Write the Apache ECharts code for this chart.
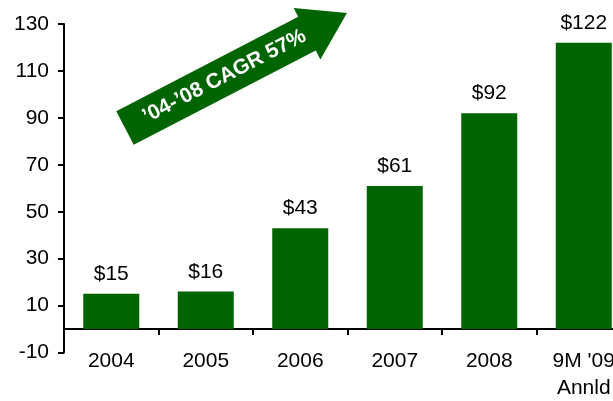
<!DOCTYPE html>
<html>
<head>
<meta charset="utf-8">
<script src="https://cdn.jsdelivr.net/npm/echarts@6/dist/echarts.min.js"></script>
<style>
html, body { margin: 0; padding: 0; background: #fff; }
#chart { width: 613px; height: 401px; }
</style>
</head>
<body>
<div id="chart"></div>
<script>
// categories and values
var years = ['2004', '2005', '2006', '2007', '2008', "9M '09\nAnnld"];
var revenue = [15, 16, 43, 61, 92, 122];
var yTicks = { min: -10, max: 130, interval: 20 };
var cagrText = '\u201904-\u201908 CAGR 57%';

var green = '#006400';
var gridH = 328.5;
var myChart = echarts.init(document.getElementById('chart'));

// arrow, drawn in its own frame then turned
var shaftLen = 205, shaftHalf = 19, headHalf = 29, headLen = 45;
var arrowPts = [
	[0, -shaftHalf], [shaftLen, -shaftHalf], [shaftLen, -headHalf],
	[shaftLen + headLen, 0],
	[shaftLen, headHalf], [shaftLen, shaftHalf], [0, shaftHalf]
];

myChart.setOption({
	backgroundColor: '#fff',
	animation: false,
	grid: { left: 64, top: 24, width: 567, height: gridH, containLabel: false, outerBoundsMode: 'none' },
	xAxis: {
		type: 'category',
		data: years,
		// lift the whole axis (line, ticks, labels) up to the zero line
		offset: -gridH * (0 - yTicks.min) / (yTicks.max - yTicks.min),
		axisLine: { onZero: false, lineStyle: { color: '#000', width: 2 } },
		axisTick: { show: true, length: 6, alignWithLabel: false, lineStyle: { color: '#000', width: 2 } },
		axisLabel: { color: '#000', fontSize: 21, fontFamily: 'Liberation Sans, Arial', margin: 19, lineHeight: 27, hideOverlap: false }
	},
	yAxis: {
		type: 'value',
		min: yTicks.min,
		max: yTicks.max,
		interval: yTicks.interval,
		axisLine: { show: true, lineStyle: { color: '#000', width: 2 } },
		axisTick: { show: true, length: 6, lineStyle: { color: '#000', width: 2 } },
		splitLine: { show: false },
		axisLabel: { color: '#000', fontSize: 21, fontFamily: 'Liberation Sans, Arial', margin: 15 }
	},
	series: [{
		type: 'bar',
		data: revenue,
		barWidth: 56,
		itemStyle: { color: green },
		label: {
			show: true,
			position: 'top',
			distance: 9,
			color: '#000',
			fontSize: 21,
			fontFamily: 'Liberation Sans, Arial',
			formatter: function (p) { return '$' + p.value; }
		}
	}],
	graphic: [{
		type: 'group',
		x: 125,
		y: 128,
		rotation: 27.4 * Math.PI / 180,
		children: [{
			type: 'polygon',
			shape: { points: arrowPts },
			style: { fill: green }
		}, {
			type: 'text',
			x: 112,
			y: 0,
			style: {
				text: cagrText,
				fill: '#fff',
				font: 'bold 21px "Liberation Sans", Arial',
				align: 'center',
				verticalAlign: 'middle',
				shadowColor: 'rgba(0,0,0,0.8)',
				shadowBlur: 2,
				shadowOffsetX: 1.5,
				shadowOffsetY: 1.5
			}
		}]
	}]
});
</script>
</body>
</html>
